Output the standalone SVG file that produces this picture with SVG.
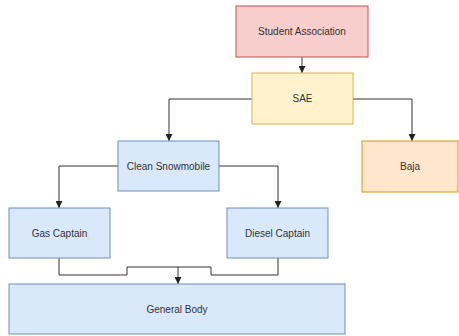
<svg xmlns="http://www.w3.org/2000/svg" width="459" height="336" viewBox="0 0 459 336">
<style>
.n rect{stroke-width:1}
.red{fill:#f8cecc;stroke:#b85450}
.yel{fill:#fff2cc;stroke:#d6b656}
.org{fill:#ffe6cc;stroke:#d79b00}
.blu{fill:#dae8fc;stroke:#6c8ebf}
text{font-family:"Liberation Sans",Arial,sans-serif;font-size:10px;fill:#333;text-anchor:middle;dominant-baseline:central}
.c path{fill:none;stroke:#333;stroke-width:1}
</style>
<defs>
<marker id="ah" viewBox="0 0 8 8" refX="8" refY="4" markerWidth="7" markerHeight="7" orient="auto" markerUnits="userSpaceOnUse">
<path d="M0,0 L8,4 L0,8 Z" fill="#222"/>
</marker>
</defs>
<rect width="459" height="336" fill="#fff"/>
<g class="c">
<path d="M302,57 V73" marker-end="url(#ah)"/>
<path d="M252,99 H169 V141" marker-end="url(#ah)"/>
<path d="M353,99 H412 V141" marker-end="url(#ah)"/>
<path d="M118,166 H59 V208" marker-end="url(#ah)"/>
<path d="M219,166 H278 V208" marker-end="url(#ah)"/>
<path d="M59,258 V275 H127 V267 H211 V275 H278 V258"/>
<path d="M178,267 V284" marker-end="url(#ah)"/>
</g>
<g id="student-association" class="n"><rect class="red" x="236" y="6" width="132" height="51"/><text x="302" y="31.5">Student Association</text></g>
<g id="sae" class="n"><rect class="yel" x="252" y="73" width="101" height="51"/><text x="302.5" y="98.5">SAE</text></g>
<g id="baja" class="n"><rect class="org" x="362" y="141" width="96" height="51"/><text x="410" y="166.5">Baja</text></g>
<g id="clean-snowmobile" class="n"><rect class="blu" x="118" y="141" width="101" height="50"/><text x="168.5" y="166">Clean Snowmobile</text></g>
<g id="gas-captain" class="n"><rect class="blu" x="9" y="208" width="101" height="50"/><text x="59.5" y="233">Gas Captain</text></g>
<g id="diesel-captain" class="n"><rect class="blu" x="227" y="208" width="101" height="50"/><text x="277.5" y="233">Diesel Captain</text></g>
<g id="general-body" class="n"><rect class="blu" x="9" y="284" width="336" height="50"/><text x="177" y="309">General Body</text></g>
</svg>
